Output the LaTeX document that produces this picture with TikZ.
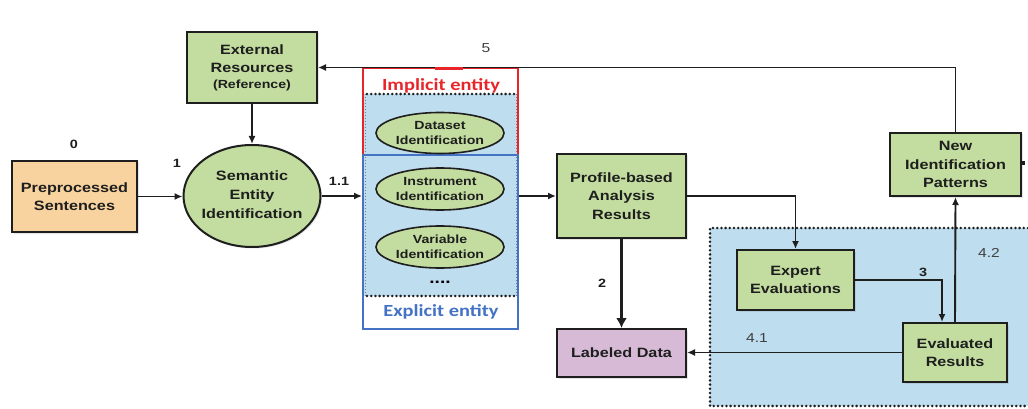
\documentclass[tikz,border=0pt]{standalone}
\usepackage{fontspec}
\setmainfont{Liberation Sans}[FakeStretch=1.2]
\newfontfamily\calib{Carlito}[FakeStretch=1.2]
\usetikzlibrary{shapes.geometric,arrows.meta,shadows}
\definecolor{gfill}{HTML}{C3DDA0}
\definecolor{bfill}{HTML}{BEDDEF}
\definecolor{ofill}{HTML}{F8D39F}
\definecolor{pfill}{HTML}{D7BBD6}
\definecolor{lnc}{HTML}{1E1E1E}
\definecolor{redb}{HTML}{E8262A}
\definecolor{blueb}{HTML}{4472C4}
\tikzset{
  box/.style={draw=lnc, line width=2pt, fill=gfill, align=center, inner sep=0pt,
    font=\fontsize{13.5}{18.5}\selectfont\bfseries, text=lnc,
    drop shadow={opacity=0.2, shadow xshift=1.5pt, shadow yshift=-1.5pt}},
  bigell/.style={draw=lnc, line width=2pt, fill=gfill, ellipse, inner sep=0pt,
    drop shadow={opacity=0.2, shadow xshift=1.5pt, shadow yshift=-1.5pt}},
  smell/.style={draw=lnc, line width=1.6pt, fill=gfill, ellipse, inner sep=0pt},
  bigtxt/.style={align=center, inner sep=0pt, font=\fontsize{13.5}{19}\selectfont\bfseries, text=lnc},
  smtxt/.style={align=center, inner sep=0pt, font=\fontsize{11.8}{15.5}\selectfont\bfseries, text=lnc},
  arr/.style={draw=lnc, line width=1.9pt, -{Latex[length=8pt,width=7pt]}},
  lbl/.style={font=\fontsize{12}{12}\selectfont\bfseries, text=lnc, inner sep=0pt},
  lblr/.style={font=\fontsize{13}{13}\selectfont, text=lnc!85, inner sep=0pt},
  bigdots/.style={draw=lnc, line width=2.8pt, dash pattern=on 0pt off 4.2pt, line cap=round}
}
\begin{document}
\begin{tikzpicture}[x=1pt,y=-1pt]
\useasboundingbox (0,0) rectangle (1028,409);
\fill[white] (0,0) rectangle (1028,409);

% right shaded region
\fill[bfill] (710,228) rectangle (1028,406);
\draw[bigdots] (1028,228) -- (710,228) -- (710,406) -- (1028,406);

% middle shaded region
\fill[bfill] (363,94) rectangle (518,296);
\draw[bigdots] (367,94) -- (518,94);
\draw[bigdots] (367,296) -- (518,296);
\draw[lnc!60, line width=0.9pt, dash pattern=on 1pt off 2pt] (365,94) -- (365,296) (516,94) -- (516,296);

% implicit / explicit frames
\node[draw=redb, line width=1.8pt, minimum width=155pt, minimum height=87pt, inner sep=0pt] (impl) at (440.5,111.5) {};
\node[draw=blueb, line width=1.8pt, minimum width=155pt, minimum height=174pt, inner sep=0pt] (expl) at (440.5,242) {};
\node[font=\calib\fontsize{17}{17}\selectfont\bfseries, text=redb, inner sep=0pt] (implt) at (441,86) {Implicit entity};
\node[font=\calib\fontsize{17}{17}\selectfont\bfseries, text=blueb, inner sep=0pt] (explt) at (441,312) {Explicit entity};

% small ellipses
\node[smell, minimum width=128pt, minimum height=41pt] (ds) at (440,133) {};
\node[smtxt] (dst) at (ds) {Dataset\\Identification};
\node[smell, minimum width=128pt, minimum height=42pt] (ins) at (440,189) {};
\node[smtxt] (inst) at (ins) {Instrument\\Identification};
\node[smell, minimum width=128pt, minimum height=42pt] (var) at (440,247) {};
\node[smtxt] (vart) at (var) {Variable\\Identification};
\node[font=\fontsize{16}{16}\selectfont\bfseries, inner sep=0pt] (dots) at (440,282) {....};

% main nodes
\node[box, minimum width=130pt, minimum height=71pt] (ext) at (252,67.5)
  {External\\Resources\\[-3pt]{\fontsize{11.8}{14}\selectfont (Reference)}};
\node[box, fill=ofill, minimum width=125pt, minimum height=71pt] (pre) at (74.5,196.5)
  {Preprocessed\\Sentences};
\node[bigell, minimum width=137pt, minimum height=102pt] (sem) at (252,196) {};
\node[bigtxt] (semt) at (252,195) {Semantic\\Entity\\Identification};
\node[box, minimum width=129pt, minimum height=84pt] (prof) at (621.5,196)
  {Profile-based\\Analysis\\Results};
\node[box, fill=pfill, minimum width=129pt, minimum height=48pt] (lab) at (621.5,353)
  {Labeled Data};
\node[box, minimum width=117pt, minimum height=60pt] (exp) at (795.5,280)
  {Expert\\Evaluations};
\node[box, minimum width=104pt, minimum height=59pt] (evr) at (955,352.5)
  {Evaluated\\Results};
\node[box, minimum width=131pt, minimum height=63pt] (newp) at (955.5,164.5)
  {New\\Identification\\Patterns};

% connectors
\draw[arr] (pre.east) -- (pre.east -| sem.west);
\draw[arr] (ext.south) -- (sem.north);
\draw[arr] (sem.east) -- (sem.east -| expl.west);
\draw[arr] (prof.west -| expl.east) -- (prof.west);
\draw[arr, line width=3.8pt, -{Latex[length=10pt,width=11pt]}] (prof.south) -- (lab.north);
\draw[arr] (prof.east) -| (exp.north);
\draw[arr] (exp.east) -| ([xshift=-13pt]evr.north);
\draw[arr] (evr.north) -- (newp.south);
\draw[arr] (evr.west) -- (lab.east |- evr.west);
\draw[arr] (newp.north) |- (ext.east);
\draw[redb, line width=3pt] (435,68.5) -- (463,68.5);
\coordinate (stub) at (1025,163);
\draw[lnc, line width=3pt] (newp.east |- stub) -- (stub);

% labels
\node[lbl] (l0) at (74,144) {0};
\node[lbl] (l1) at (177,163) {1};
\node[lbl] (l11) at (339,181) {1.1};
\node[lbl] (l2) at (602,283) {2};
\node[lbl] (l3) at (923,272) {3};
\node[lblr] (l41) at (757,338) {4.1};
\node[lblr] (l42) at (989,253) {4.2};
\node[lblr] (l5) at (486,48) {5};
\end{tikzpicture}
\end{document}
